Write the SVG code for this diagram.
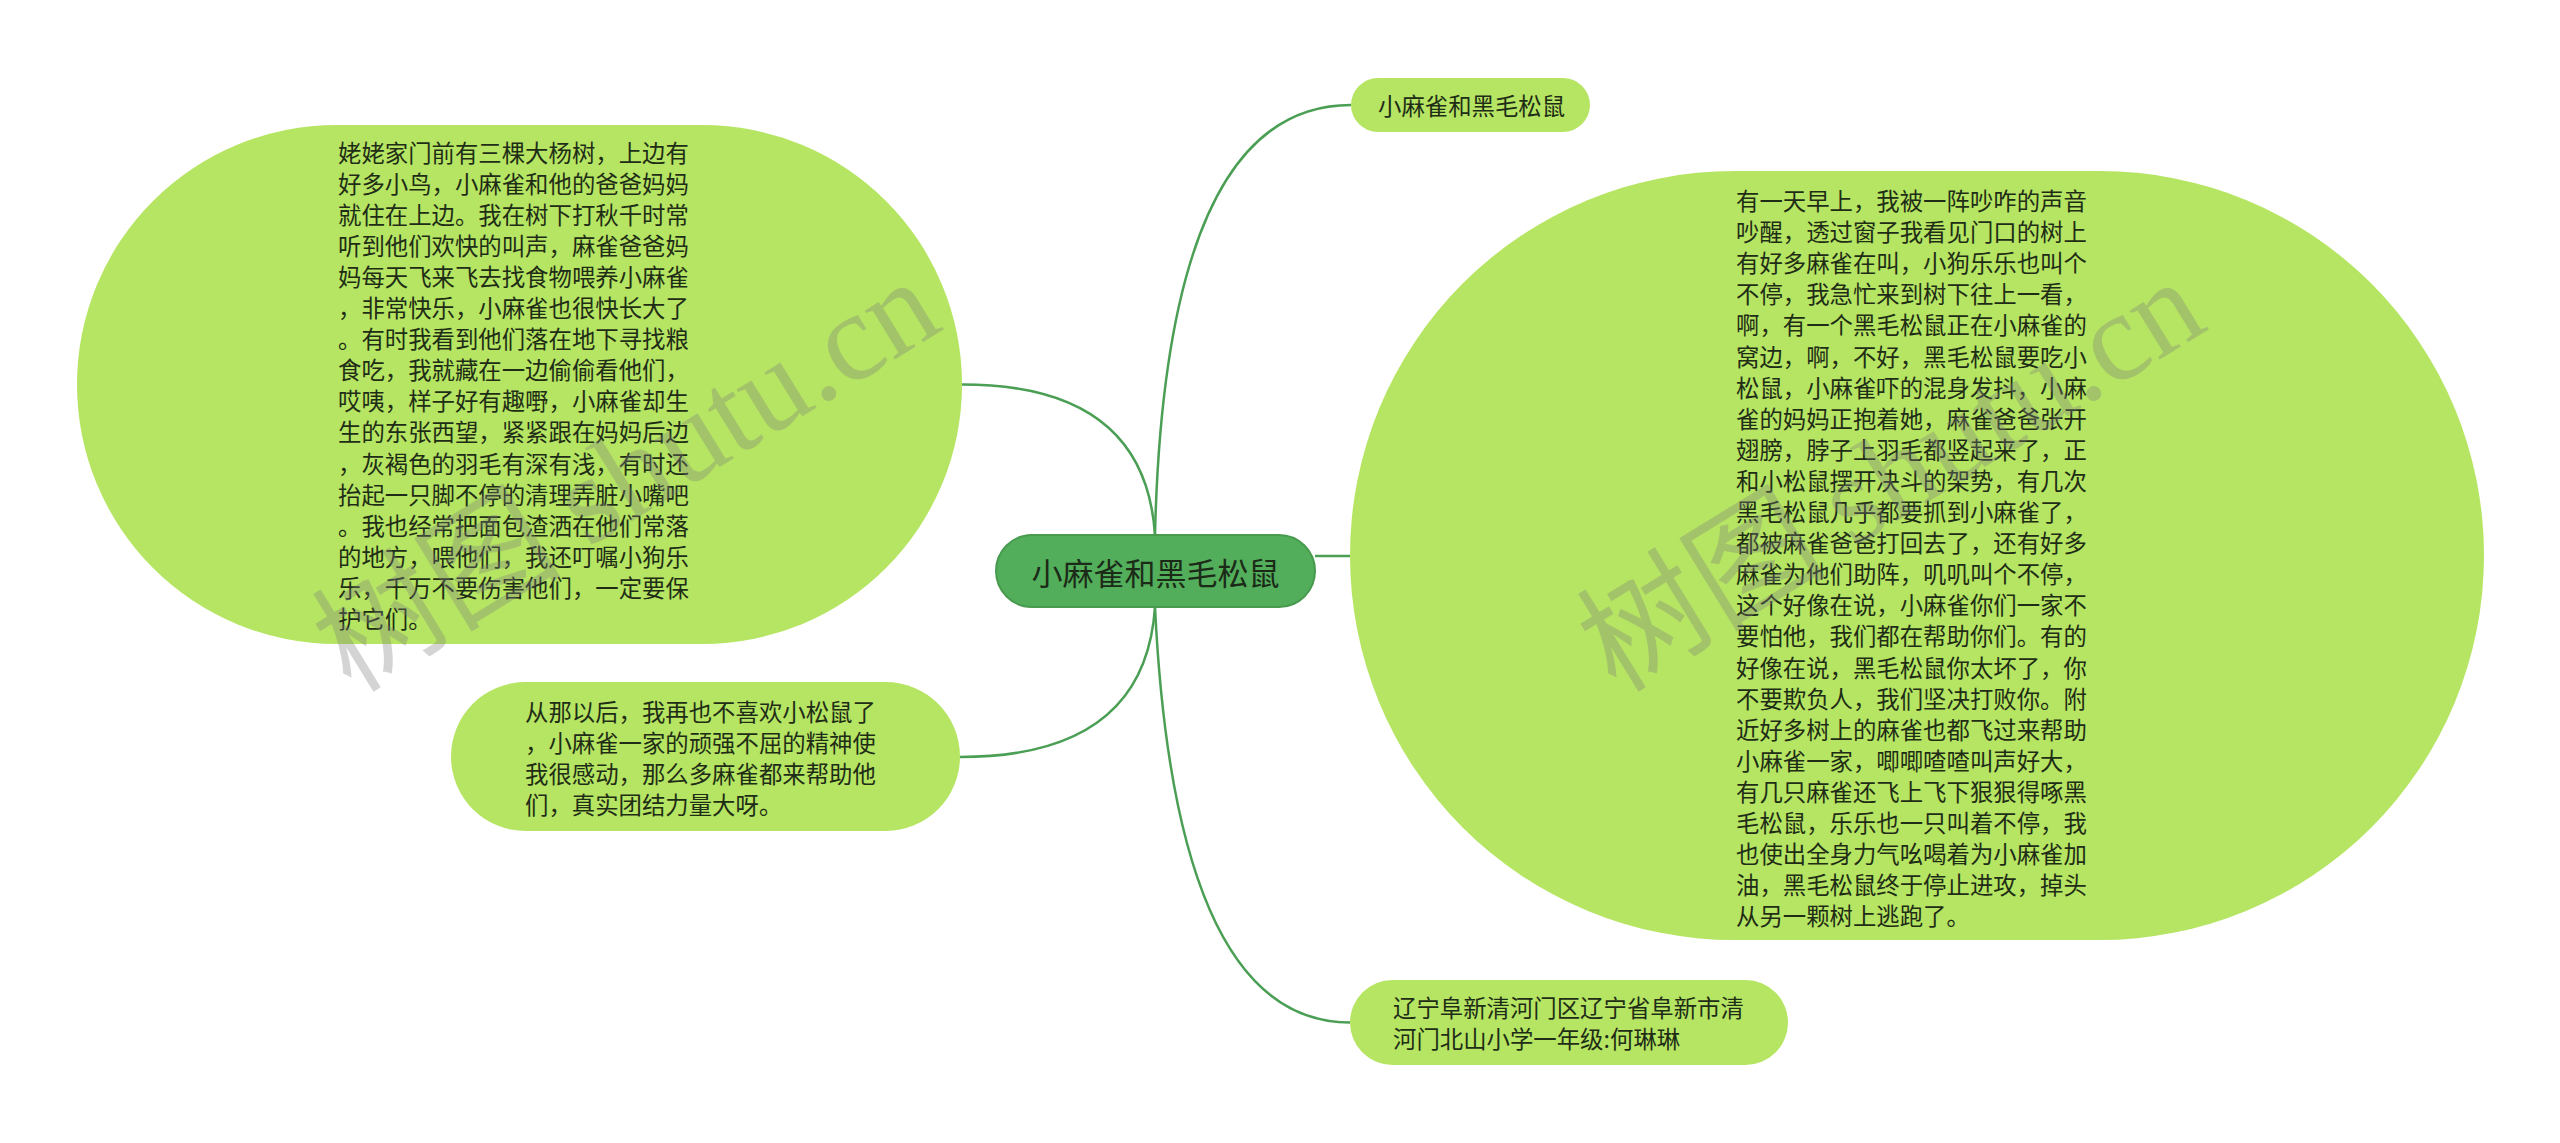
<svg xmlns="http://www.w3.org/2000/svg" width="2560" height="1143" viewBox="0 0 2560 1143">
<style>
.node{fill:#b5e562;}
.center{fill:#52ae5a;stroke:#479a4e;stroke-width:2;}
.t{font-family:"Noto Sans CJK SC","Noto Sans",sans-serif;font-size:23.4px;fill:#1f2d16;dominant-baseline:central;}
.ct{font-family:"Noto Sans CJK SC","Noto Sans",sans-serif;font-size:31px;fill:#1c2a18;dominant-baseline:central;text-anchor:middle;}
.conn{fill:none;stroke:#4a9f54;stroke-width:2.5;}
.wm{font-family:"Noto Sans CJK SC",sans-serif;font-size:125px;fill:#7f7f7f;opacity:0.33;}
.wm tspan{font-family:"Liberation Serif",serif;}
</style>
<rect width="2560" height="1143" fill="#ffffff"/>
<g id="connectors">
<path class="conn" d="M1155,535 Q1145,384.5 962,384.5"/>
<path class="conn" d="M1155,535 Q1165,105 1351,105"/>
<path class="conn" d="M1315,556 L1350,556"/>
<path class="conn" d="M1155,607 Q1145,757 960,757"/>
<path class="conn" d="M1155,607 Q1175,1022.5 1350,1022.5"/>
</g>
<g id="node-left">
<rect class="node" x="77" y="125" width="885" height="519" rx="259.5" ry="259.5"/>
<text class="t" x="338">
<tspan x="338" y="151.5">姥姥家门前有三棵大杨树，上边有</tspan>
<tspan x="338" y="182.6">好多小鸟，小麻雀和他的爸爸妈妈</tspan>
<tspan x="338" y="213.7">就住在上边。我在树下打秋千时常</tspan>
<tspan x="338" y="244.8">听到他们欢快的叫声，麻雀爸爸妈</tspan>
<tspan x="338" y="275.9">妈每天飞来飞去找食物喂养小麻雀</tspan>
<tspan x="338" y="307">，非常快乐，小麻雀也很快长大了</tspan>
<tspan x="338" y="338.1">。有时我看到他们落在地下寻找粮</tspan>
<tspan x="338" y="369.2">食吃，我就藏在一边偷偷看他们，</tspan>
<tspan x="338" y="400.3">哎咦，样子好有趣嘢，小麻雀却生</tspan>
<tspan x="338" y="431.4">生的东张西望，紧紧跟在妈妈后边</tspan>
<tspan x="338" y="462.5">，灰褐色的羽毛有深有浅，有时还</tspan>
<tspan x="338" y="493.6">抬起一只脚不停的清理弄脏小嘴吧</tspan>
<tspan x="338" y="524.7">。我也经常把面包渣洒在他们常落</tspan>
<tspan x="338" y="555.8">的地方，喂他们，我还叮嘱小狗乐</tspan>
<tspan x="338" y="586.9">乐，千万不要伤害他们，一定要保</tspan>
<tspan x="338" y="618">护它们。</tspan>
</text>
</g>
<g id="node-bottom-left">
<rect class="node" x="451" y="682" width="509" height="149" rx="74.5" ry="74.5"/>
<text class="t">
<tspan x="525" y="710.5">从那以后，我再也不喜欢小松鼠了</tspan>
<tspan x="525" y="741.5">，小麻雀一家的顽强不屈的精神使</tspan>
<tspan x="525" y="772.5">我很感动，那么多麻雀都来帮助他</tspan>
<tspan x="525" y="803.5">们，真实团结力量大呀。</tspan>
</text>
</g>
<g id="node-center">
<rect class="center" x="996" y="535" width="319" height="72" rx="36" ry="36"/>
<text class="ct" x="1155.5" y="571">小麻雀和黑毛松鼠</text>
</g>
<g id="node-top">
<rect class="node" x="1351" y="78" width="239" height="54" rx="27" ry="27"/>
<text class="t" x="1378" y="105">小麻雀和黑毛松鼠</text>
</g>
<g id="node-right">
<rect class="node" x="1350" y="171" width="1134" height="769" rx="384.5" ry="384.5"/>
<text class="t">
<tspan x="1736" y="200">有一天早上，我被一阵吵咋的声音</tspan>
<tspan x="1736" y="231.1">吵醒，透过窗子我看见门口的树上</tspan>
<tspan x="1736" y="262.2">有好多麻雀在叫，小狗乐乐也叫个</tspan>
<tspan x="1736" y="293.3">不停，我急忙来到树下往上一看，</tspan>
<tspan x="1736" y="324.4">啊，有一个黑毛松鼠正在小麻雀的</tspan>
<tspan x="1736" y="355.5">窝边，啊，不好，黑毛松鼠要吃小</tspan>
<tspan x="1736" y="386.6">松鼠，小麻雀吓的混身发抖，小麻</tspan>
<tspan x="1736" y="417.7">雀的妈妈正抱着她，麻雀爸爸张开</tspan>
<tspan x="1736" y="448.8">翅膀，脖子上羽毛都竖起来了，正</tspan>
<tspan x="1736" y="479.9">和小松鼠摆开决斗的架势，有几次</tspan>
<tspan x="1736" y="511">黑毛松鼠几乎都要抓到小麻雀了，</tspan>
<tspan x="1736" y="542.1">都被麻雀爸爸打回去了，还有好多</tspan>
<tspan x="1736" y="573.2">麻雀为他们助阵，叽叽叫个不停，</tspan>
<tspan x="1736" y="604.3">这个好像在说，小麻雀你们一家不</tspan>
<tspan x="1736" y="635.4">要怕他，我们都在帮助你们。有的</tspan>
<tspan x="1736" y="666.5">好像在说，黑毛松鼠你太坏了，你</tspan>
<tspan x="1736" y="697.6">不要欺负人，我们坚决打败你。附</tspan>
<tspan x="1736" y="728.7">近好多树上的麻雀也都飞过来帮助</tspan>
<tspan x="1736" y="759.8">小麻雀一家，唧唧喳喳叫声好大，</tspan>
<tspan x="1736" y="790.9">有几只麻雀还飞上飞下狠狠得啄黑</tspan>
<tspan x="1736" y="822">毛松鼠，乐乐也一只叫着不停，我</tspan>
<tspan x="1736" y="853.1">也使出全身力气吆喝着为小麻雀加</tspan>
<tspan x="1736" y="884.2">油，黑毛松鼠终于停止进攻，掉头</tspan>
<tspan x="1736" y="915.3">从另一颗树上逃跑了。</tspan>
</text>
</g>
<g id="node-bottom-right">
<rect class="node" x="1350" y="980" width="438" height="85" rx="42.5" ry="42.5"/>
<text class="t">
<tspan x="1393" y="1007">辽宁阜新清河门区辽宁省阜新市清</tspan>
<tspan x="1393" y="1038">河门北山小学一年级:何琳琳</tspan>
</text>
</g>
<g id="watermarks">
<text class="wm" transform="translate(351,694) rotate(-31.6)">树图 <tspan>shutu.cn</tspan></text>
<text class="wm" transform="translate(1616,694) rotate(-31.6)">树图 <tspan>shutu.cn</tspan></text>
</g>
</svg>
